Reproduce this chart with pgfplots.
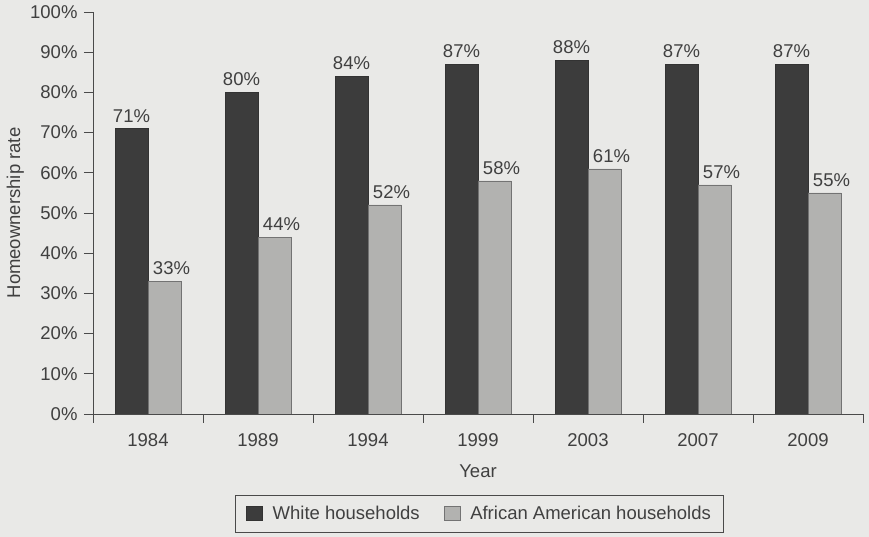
\documentclass[border=0pt]{standalone}
\usepackage{pgfplots}
\pgfplotsset{compat=1.18}
\usepackage{fontspec}
\setmainfont{Liberation Sans}
\definecolor{bg}{HTML}{E9E9E7}
\definecolor{darkbar}{HTML}{3C3C3C}
\definecolor{lightbar}{HTML}{B2B2B0}
\definecolor{axcol}{HTML}{4A4A4A}
\definecolor{txt}{HTML}{404040}
\newcommand{\cf}{\fontsize{18.5}{21}\selectfont}
\begin{document}
\begin{tikzpicture}[x=1pt,y=1pt]
\fill[bg] (0,0) rectangle (869,537);
\useasboundingbox (0,0) rectangle (869,537);
\begin{axis}[
  at={(93pt,123pt)}, anchor=south west,
  scale only axis, width=770pt, height=402pt,
  xmin=-0.5, xmax=6.5, ymin=0, ymax=100,
  axis x line=bottom, axis y line=left,
  axis line style={axcol, line width=0.9pt, -},
  every tick/.style={axcol, line width=0.9pt},
  ybar=0pt, bar width=33pt,
  xtick={0,...,6},
  xticklabels={1984,1989,1994,1999,2003,2007,2009},
  major x tick style={draw=none},
  minor xtick={-0.5,0.5,...,6.5},
  minor tick length=9pt,
  xtick align=outside, ytick align=outside,
  major tick length=9pt,
  ytick={0,10,...,100},
  yticklabels={0\%,10\%,20\%,30\%,40\%,50\%,60\%,70\%,80\%,90\%,100\%},
  tick label style={font=\cf, text=txt},
  xticklabel style={yshift=-7pt},
  yticklabel style={xshift=-3pt},
  /pgf/number format/assume math mode=true,
  xlabel={Year}, ylabel={Homeownership rate},
  label style={font=\cf, text=txt},
  xlabel style={at={(axis description cs:0.5,-0.143)}, anchor=center},
  ylabel style={at={(axis description cs:-0.101,0.5)}, anchor=center},
  nodes near coords={\pgfmathprintnumber{\pgfplotspointmeta}\%},
  every node near coord/.append style={font=\cf, text=txt, inner sep=2pt, yshift=4pt},
  legend style={at={(0.502,-0.2475)}, anchor=center, draw=axcol, line width=0.8pt, fill=bg,
     font=\cf, text=txt, legend columns=2,
     /tikz/every odd column/.append style={column sep=8pt},
     /tikz/every even column/.append style={column sep=22pt},
     inner xsep=11pt, inner ysep=9pt},
  legend image code/.code={\fill[#1] (0pt,-7pt) rectangle (16pt,7pt);},
]
\addplot[fill=darkbar, draw=black!80, line width=0.5pt] coordinates {(0,71) (1,80) (2,84) (3,87) (4,88) (5,87) (6,87)};
\addplot[fill=lightbar, draw=black!55, line width=0.5pt,
  every node near coord/.append style={xshift=7pt}] coordinates {(0,33) (1,44) (2,52) (3,58) (4,61) (5,57) (6,55)};
\legend{White households, African American households}
\end{axis}
\end{tikzpicture}
\end{document}
